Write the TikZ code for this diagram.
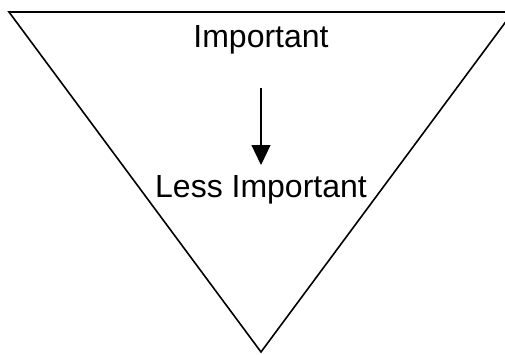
\documentclass[tikz,border=0pt]{standalone}
\usepackage{fontspec}
\setmainfont{Liberation Sans}
\usetikzlibrary{arrows.meta}

\tikzset{
    label text/.style={font=\fontsize{32}{36}\selectfont, inner sep=0pt, anchor=base},
    rank arrow/.style={-{Triangle[length=20pt, width=19pt]}, line width=1.2pt}
}

\begin{document}
\begin{tikzpicture}[x=1pt, y=-1pt]
    \useasboundingbox (0,0) rectangle (505,354);
    \clip (0,0) rectangle (505,354);
    % Inverted triangle
    \draw[line width=1.6pt, line join=miter] (9,12) -- (513,12) -- (261,352) -- cycle;

    % Labels
    \node[label text] (imp) at (261,47) {Important};
    \node[label text] (less) at (261,197) {Less Important};

    % Arrow
    \draw[rank arrow, shorten <=41pt, shorten >=32pt] (imp.base) -- (less.base);
\end{tikzpicture}
\end{document}
